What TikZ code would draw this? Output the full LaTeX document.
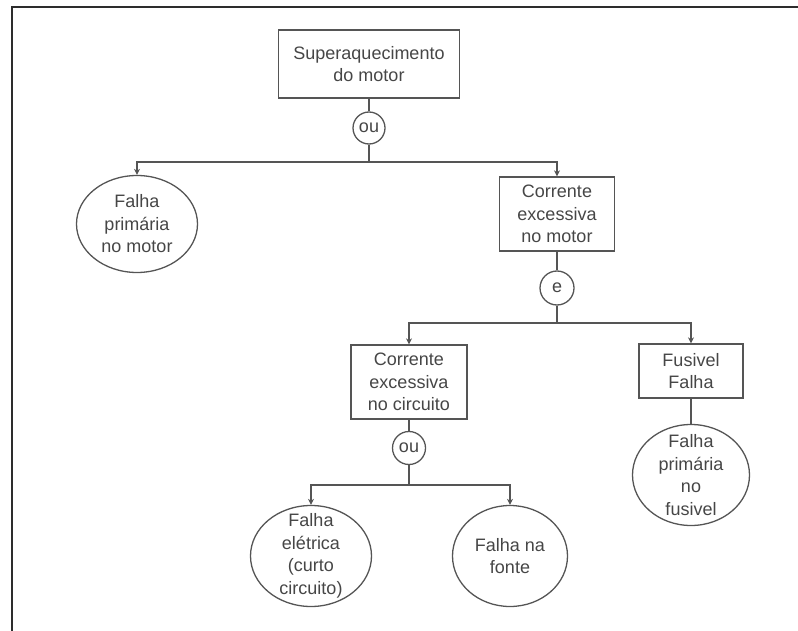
\documentclass[tikz,border=0pt]{standalone}
\usepackage{fontspec}
\setmainfont{Liberation Sans}
\usetikzlibrary{positioning,arrows.meta,shapes.geometric}
\definecolor{ftLine}{RGB}{85,85,85}
\definecolor{ftText}{RGB}{70,70,70}
\definecolor{ftFrame}{RGB}{45,45,45}
\tikzset{
    base/.style={font=\fontsize{18}{22.5}\selectfont, align=center, text=ftText},
    evento/.style={base, rectangle, draw=ftLine, line width=1.3pt, inner sep=0pt},
    basico/.style={ellipse, draw=ftLine, line width=1.3pt, inner sep=0pt},
    porta/.style={base, circle, draw=ftLine, line width=1.3pt, inner sep=0pt},
    txt/.style={base},
    liga/.style={draw=ftLine, line width=1.3pt},
    seta/.style={liga, -{Stealth[length=6pt,width=6pt]}}
}

\begin{document}
\begin{tikzpicture}[x=1pt, y=-1pt]
  \useasboundingbox (0,0) rectangle (798,631);
  % moldura
  \draw[ftFrame, line width=2.5pt] (12,631) -- (12,7) -- (798,7);

  % evento de topo
  \node[evento, minimum width=181pt, minimum height=68pt] (topo) at (369,64) {Superaquecimento\\do motor};
  \node[porta, minimum size=32pt] (ou1) at (369,128) {ou};
  \coordinate (j1) at (369,162);

  % primeiro nivel
  \node[basico, minimum width=121pt, minimum height=97pt,
        label={[txt]center:Falha\\primária\\no motor}] (falhaMotor) at (137,224) {};
  \node[evento, minimum width=115pt, minimum height=74pt] (corMotor) at (557,214) {Corrente\\excessiva\\no motor};
  \node[porta, minimum size=34pt] (e1) at (557,288) {e};
  \coordinate (j2) at (557,323);

  % segundo nivel
  \node[evento, minimum width=116pt, minimum height=74pt] (corCirc) at (409,382) {Corrente\\excessiva\\no circuito};
  \node[evento, minimum width=104pt, minimum height=54pt] (fusivel) at (691,371) {Fusivel\\Falha};
  \node[basico, minimum width=117pt, minimum height=101pt,
        label={[txt]center:Falha\\primária\\no\\fusivel}] (falhaFus) at (691,475) {};
  \node[porta, minimum size=33pt] (ou2) at (409,448) {ou};
  \coordinate (j3) at (409,485);

  % eventos basicos
  \node[basico, minimum width=121pt, minimum height=101pt,
        label={[txt]center:Falha\\elétrica\\(curto\\circuito)}] (falhaElet) at (311,556) {};
  \node[basico, minimum width=115pt, minimum height=101pt,
        label={[txt]center:Falha na\\fonte}] (falhaFonte) at (510,556) {};

  % ligacoes
  \draw[liga] (topo) -- (ou1);
  \draw[liga] (ou1) -- (j1);
  \draw[seta] (j1) -| (falhaMotor);
  \draw[seta] (j1) -| (corMotor);

  \draw[liga] (corMotor) -- (e1);
  \draw[liga] (e1) -- (j2);
  \draw[seta] (j2) -| (corCirc);
  \draw[seta] (j2) -| (fusivel);
  \draw[liga] (fusivel) -- (falhaFus);

  \draw[liga] (corCirc) -- (ou2);
  \draw[liga] (ou2) -- (j3);
  \draw[seta] (j3) -| (falhaElet);
  \draw[seta] (j3) -| (falhaFonte);
\end{tikzpicture}
\end{document}
